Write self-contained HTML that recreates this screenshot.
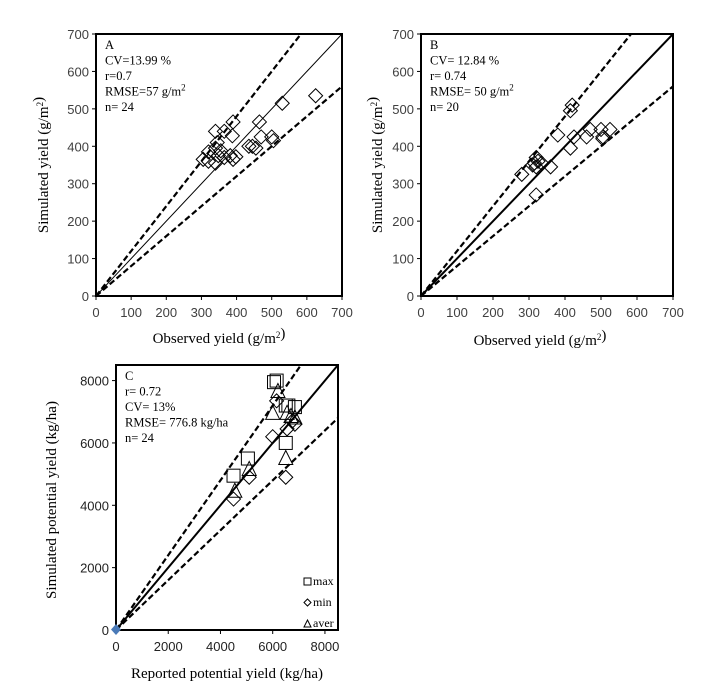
<!DOCTYPE html>
<html><head><meta charset="utf-8"><style>
html,body{margin:0;padding:0;background:#fff;}
svg text{font-family:"Liberation Serif",serif;}
.t{font-family:"Liberation Sans",sans-serif;font-size:13px;fill:#404040;}
.tc{font-family:"Liberation Sans",sans-serif;font-size:13px;fill:#222;}
</style></head><body>
<svg id="s" width="722" height="694" xmlns="http://www.w3.org/2000/svg">
</svg>
<script>
const s=document.getElementById('s');let h='';
function panel(x0,x1,y0,y1,max,step,pts,labels,tc){
 const X=v=>x0+(x1-x0)*v/max, Y=v=>y1-(y1-y0)*v/max;
 h+=`<defs><clipPath id="c${x0}${y0}"><rect x="${x0}" y="${y0}" width="${x1-x0}" height="${y1-y0}"/></clipPath></defs>`;
 h+=`<g clip-path="url(#c${x0}${y0})">`;
 h+=`<line x1="${X(0)}" y1="${Y(0)}" x2="${X(max)}" y2="${Y(max)}" stroke="#000" stroke-width="${tc=='A'?1:2}"/>`;
 h+=`<line x1="${X(0)}" y1="${Y(0)}" x2="${X(max/1.2)}" y2="${Y(max)}" stroke="#000" stroke-width="2.2" stroke-dasharray="6,3"/>`;
 h+=`<line x1="${X(0)}" y1="${Y(0)}" x2="${X(max)}" y2="${Y(max*0.8)}" stroke="#000" stroke-width="2.2" stroke-dasharray="6,3"/>`;
 h+='</g>';
 for(const p of pts){const cx=X(p[0]),cy=Y(p[1]),t=p[2]||'d';
  if(t=='d')h+=`<polygon points="${cx},${cy-7} ${cx+7},${cy} ${cx},${cy+7} ${cx-7},${cy}" fill="none" stroke="#000" stroke-width="1"/>`;
  if(t=='q')h+=`<rect x="${cx-6.5}" y="${cy-6.5}" width="13" height="13" fill="none" stroke="#000"/>`;
  if(t=='t')h+=`<polygon points="${cx},${cy-8} ${cx+7},${cy+6} ${cx-7},${cy+6}" fill="none" stroke="#000"/>`;
 }
 h+=`<rect x="${x0}" y="${y0}" width="${x1-x0}" height="${y1-y0}" fill="none" stroke="#000" stroke-width="2"/>`;
 const cls=tc=='C'?'tc':'t';
 for(let v=0;v<=max;v+=step){
  h+=`<line x1="${x0-4}" y1="${Y(v)}" x2="${x0}" y2="${Y(v)}" stroke="#000"/>`;
  h+=`<line x1="${X(v)}" y1="${y1}" x2="${X(v)}" y2="${y1+4}" stroke="#000"/>`;
  h+=`<text class="${cls}" x="${x0-7}" y="${Y(v)+5}" text-anchor="end">${v}</text>`;
  h+=`<text class="${cls}" x="${X(v)}" y="${y1+21}" text-anchor="middle">${v}</text>`;
 }
 let ly=y0+15;for(const l of labels){h+=`<text x="${x0+9}" y="${ly}" font-size="12.5">${l}</text>`;ly+=15.5;}
}
const A=[[530,515],[625,535],[390,465],[465,465],[340,440],[365,440],[388,428],[345,410],[340,395],[320,385],[355,388],[305,365],[320,360],[340,355],[348,375],[365,370],[382,375],[390,365],[398,372],[435,400],[445,400],[455,395],[470,425],[500,425],[505,415]];
const B=[[420,510],[415,495],[380,430],[425,425],[470,445],[500,445],[525,445],[460,425],[505,425],[505,420],[415,395],[360,345],[320,370],[325,360],[315,355],[320,345],[335,355],[280,325],[320,270],[310,350]];
const C=[[6050,7950,'q'],[6150,8000,'q'],[6500,7200,'q'],[6600,7200,'q'],[6850,7150,'q'],[6500,6000,'q'],[5050,5500,'q'],[4500,4950,'q'],
[6150,7350],[6000,6200],[6550,6450],[6750,6700],[6850,6600],[6500,4900],[5100,4900],[4500,4200],
[6200,7650,'t'],[6000,6950,'t'],[6550,6950,'t'],[6700,6850,'t'],[6850,6800,'t'],[6500,5500,'t'],[5100,5150,'t'],[4550,4450,'t']];
const sup='<tspan font-size="9" dy="-5">2</tspan>';
panel(96,342,34,296,700,100,A,['A','CV=13.99 %','r=0.7','RMSE=57 g/m'+sup,'n= 24'],'A');
panel(421,673,34,296,700,100,B,['B','CV= 12.84 %','r= 0.74','RMSE= 50 g/m'+sup,'n= 20'],'B');
panel(116,338,365,630,8500,2000,C,['C','r= 0.72','CV= 13%','RMSE= 776.8 kg/ha','n= 24'],'C');
h+=`<polygon points="116,624 121,629.5 116,635 111,629.5" fill="#4a7ab8"/>`;
h+=`<text x="48" y="165" font-size="15" text-anchor="middle" transform="rotate(-90 48 165)">Simulated yield (g/m${sup})</text>`;
h+=`<text x="382" y="165" font-size="15" text-anchor="middle" transform="rotate(-90 382 165)">Simulated yield (g/m${sup})</text>`;
h+=`<text x="219" y="343" font-size="15" text-anchor="middle">Observed yield (g/m${sup})</text>`;
h+=`<text x="540" y="345" font-size="15" text-anchor="middle">Observed yield (g/m${sup})</text>`;
h+=`<text x="56" y="500" font-size="15" text-anchor="middle" transform="rotate(-90 56 500)">Simulated potential yield (kg/ha)</text>`;
h+=`<text x="227" y="678" font-size="15" text-anchor="middle">Reported potential yield (kg/ha)</text>`;
h+=`<rect x="304" y="578" width="7" height="7" fill="none" stroke="#000"/><text x="313" y="585" font-size="12">max</text>`;
h+=`<polygon points="307.5,599 311,602.5 307.5,606 304,602.5" fill="none" stroke="#000"/><text x="313" y="606" font-size="12">min</text>`;
h+=`<polygon points="307.5,620 311,627 304,627" fill="none" stroke="#000"/><text x="313" y="627" font-size="12">aver</text>`;
s.innerHTML=h;
</script>
</body></html>
